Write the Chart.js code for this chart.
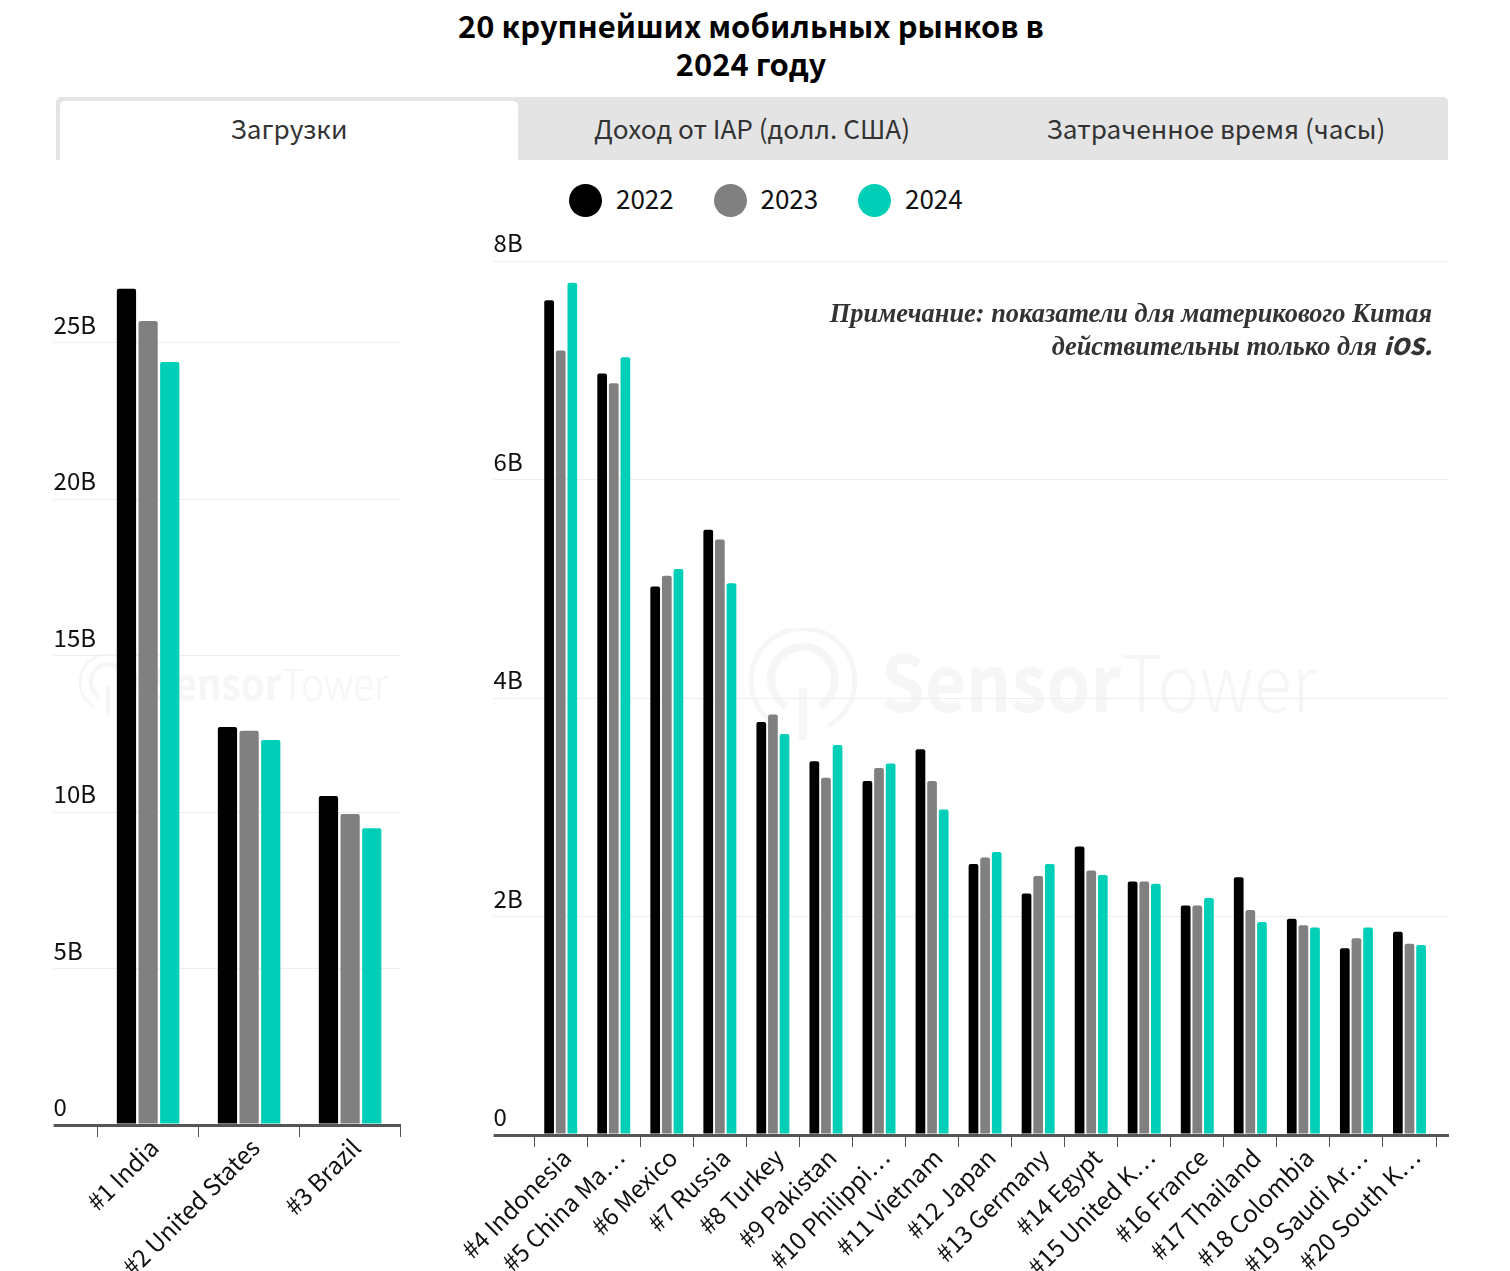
<!DOCTYPE html>
<html lang="ru">
<head>
<meta charset="utf-8">
<title>20 крупнейших мобильных рынков в 2024 году</title>
<script src="https://cdn.jsdelivr.net/npm/chart.js@4"></script>
<style>
  html, body { margin: 0; padding: 0; background: #fff; }
  body { width: 1510px; height: 1271px; position: relative; overflow: hidden; font-family: "Noto Sans CJK SC", "Noto Sans", sans-serif; }
  h1 { position: absolute; left: 0; top: 6px; width: 1502px; margin: 0; text-align: center; font-size: 30.9px; line-height: 38px; font-weight: 700; color: #000; }
  .tabs { position: absolute; left: 56px; top: 97px; width: 1392px; height: 63px; background: #e4e4e4; border-radius: 5px 5px 0 0; }
  .tab { position: absolute; top: 4px; height: 59px; width: 464px; text-align: center; line-height: 54px; font-size: 26.2px; color: #333; }
  .tab.active { left: 4px; width: 458px; background: #fff; border-radius: 5px 5px 0 0; }
  .legend { position: absolute; left: 569px; top: 183px; display: flex; height: 34px; align-items: center; font-size: 26px; line-height: 30px; color: #111; }
  .legend i { width: 33px; height: 33px; border-radius: 50%; margin-right: 14px; }
  .legend span { display: block; width: 97.5px; position: relative; top: -2px; }
  .note { position: absolute; right: 78px; top: 298px; text-align: right; font: italic 700 26.4px/31.5px "Liberation Serif", serif; color: #333; }
  .note b { font-family: "Noto Sans CJK SC", sans-serif; font-size: 23px; }
  .mark { position: absolute; }
  canvas { position: absolute; display: block; }
</style>
</head>
<body>
<h1>20 крупнейших мобильных рынков в<br>2024 году</h1>
<div class="tabs">
  <div class="tab active">Загрузки</div>
  <div class="tab" style="left:464px">Доход от IAP (долл. США)</div>
  <div class="tab" style="left:928px">Затраченное время (часы)</div>
</div>
<div class="legend" id="legend"></div>

<svg class="mark" style="left:748px;top:628px" width="580" height="114" viewBox="0 0 580 114">
  <g id="wm" fill="none" stroke="#f6f6f6">
    <path d="M30 98 A52 52 0 1 1 80 98" stroke-width="5"/>
    <path d="M38 78 A32 32 0 1 1 72 78" stroke-width="8"/>
    <path d="M55 60 V112" stroke-width="8"/>
    <text x="133" y="84" textLength="436" lengthAdjust="spacingAndGlyphs" font-family="Noto Sans CJK SC" font-size="78" font-weight="700" fill="#f6f6f6" stroke="none">Sensor<tspan font-weight="300">Tower</tspan></text>
  </g>
</svg>
<svg class="mark" style="left:78px;top:654px" width="316" height="62" viewBox="0 0 580 114">
  <use href="#wm"/>
</svg>

<canvas id="downloadsTop3" width="420" height="1071" style="left:0;top:200px"></canvas>
<canvas id="downloadsRest" width="1070" height="1071" style="left:440px;top:200px"></canvas>

<div class="note">Примечание: показатели для материкового Китая<br>действительны только для <b>iOS.</b></div>

<script>
var seriesNames = ['2022', '2023', '2024'];
var seriesColors = ['#000000', '#808080', '#00cfb8'];

var top3Labels = ['#1 India', '#2 United States', '#3 Brazil'];
var top3_2022 = [26.73, 12.72, 10.52];
var top3_2023 = [25.70, 12.60, 9.94];
var top3_2024 = [24.39, 12.31, 9.49];

var restLabels = ['#4 Indonesia', '#5 China Ma…', '#6 Mexico', '#7 Russia', '#8 Turkey', '#9 Pakistan',
  '#10 Philippi…', '#11 Vietnam', '#12 Japan', '#13 Germany', '#14 Egypt', '#15 United K…', '#16 France',
  '#17 Thailand', '#18 Colombia', '#19 Saudi Ar…', '#20 South K…'];
var rest_2022 = [7.64, 6.97, 5.02, 5.54, 3.78, 3.42, 3.24, 3.53, 2.48, 2.21, 2.64, 2.32, 2.10, 2.36, 1.98, 1.71, 1.86];
var rest_2023 = [7.18, 6.88, 5.12, 5.45, 3.85, 3.27, 3.36, 3.24, 2.54, 2.37, 2.42, 2.32, 2.10, 2.06, 1.92, 1.80, 1.75];
var rest_2024 = [7.80, 7.12, 5.18, 5.05, 3.67, 3.57, 3.40, 2.98, 2.59, 2.48, 2.38, 2.30, 2.17, 1.95, 1.90, 1.90, 1.74];

var FONT = '"Noto Sans CJK SC", "Noto Sans", sans-serif';

// легенда
seriesNames.forEach(function(name, i) {
    var dot = document.createElement('i');
    dot.style.background = seriesColors[i];
    var text = document.createElement('span');
    text.textContent = name;
    document.getElementById('legend').append(dot, text);
});

function gridColor(ctx) { return ctx.tick.value === 0 ? '#555555' : '#eeeeee'; }
function gridWidth(ctx) { return ctx.tick.value === 0 ? 3 : 1; }

function makeDatasets(values, barPct, catPct) {
    return values.map(function(data, i) {
        return {
            label: seriesNames[i],
            data: data,
            backgroundColor: seriesColors[i],
            barPercentage: barPct,
            categoryPercentage: catPct,
            borderRadius: { topLeft: 2, topRight: 2 },
            borderSkipped: false
        };
    });
}

function makeChart(id, labels, values, o) {
    var scales = {
        x: {
            grid: { drawOnChartArea: false, tickLength: 12, color: '#555555', lineWidth: 1 },
            border: { display: true, color: '#555555', width: 3, z: 1 },
            ticks: {
                autoSkip: false, minRotation: 45, maxRotation: 45, padding: -4, labelOffset: 6,
                color: '#111', font: { family: FONT, size: 24 }
            },
            afterFit: function(scale) {
                scale.height = o.axisHeight;
                scale.paddingLeft = 0;
                scale.paddingRight = 0;
            }
        },
        y: {
            min: 0, max: o.max,
            grid: { color: gridColor, lineWidth: gridWidth, tickLength: o.leftWidth },
            border: { display: false },
            ticks: {
                stepSize: o.step, includeBounds: false, crossAlign: 'far', padding: 0,
                color: '#111', font: { family: FONT, size: 24, lineHeight: 1.5 },
                // подпись над линией сетки
                callback: function(v) { return [v === 0 ? '0' : v + 'B', '']; }
            },
            afterFit: function(scale) { scale.width = o.leftWidth; }
        }
    };
    if (o.rightWidth) {
        scales.y2 = {
            position: 'right', min: 0, max: o.max,
            grid: { drawOnChartArea: false, color: gridColor, lineWidth: gridWidth, tickLength: o.rightWidth },
            border: { display: false },
            ticks: { stepSize: o.step, includeBounds: false, padding: 0, callback: function() { return ''; } },
            afterFit: function(scale) { scale.width = o.rightWidth; }
        };
    }
    return new Chart(document.getElementById(id), {
        type: 'bar',
        data: { labels: labels, datasets: makeDatasets(values, o.barPct, o.catPct) },
        options: {
            responsive: false,
            animation: false,
            layout: { padding: o.padding },
            plugins: { legend: { display: false }, tooltip: { enabled: false } },
            scales: scales
        }
    });
}

document.fonts.load('24px "Noto Sans CJK SC"').finally(function() {
    makeChart('downloadsTop3', top3Labels, [top3_2022, top3_2023, top3_2024], {
        max: 27, step: 5, axisHeight: 146, leftWidth: 44,
        barPct: 0.889, catPct: 0.643,
        padding: { left: 53.6, right: 19.4, top: 80.4, bottom: 0 }
    });
    makeChart('downloadsRest', restLabels, [rest_2022, rest_2023, rest_2024], {
        max: 8, step: 2, axisHeight: 136, leftWidth: 40.6, rightWidth: 13,
        barPct: 0.836, catPct: 0.657,
        padding: { left: 53.6, right: 61, top: 61, bottom: 0 }
    });
});
</script>
</body>
</html>
